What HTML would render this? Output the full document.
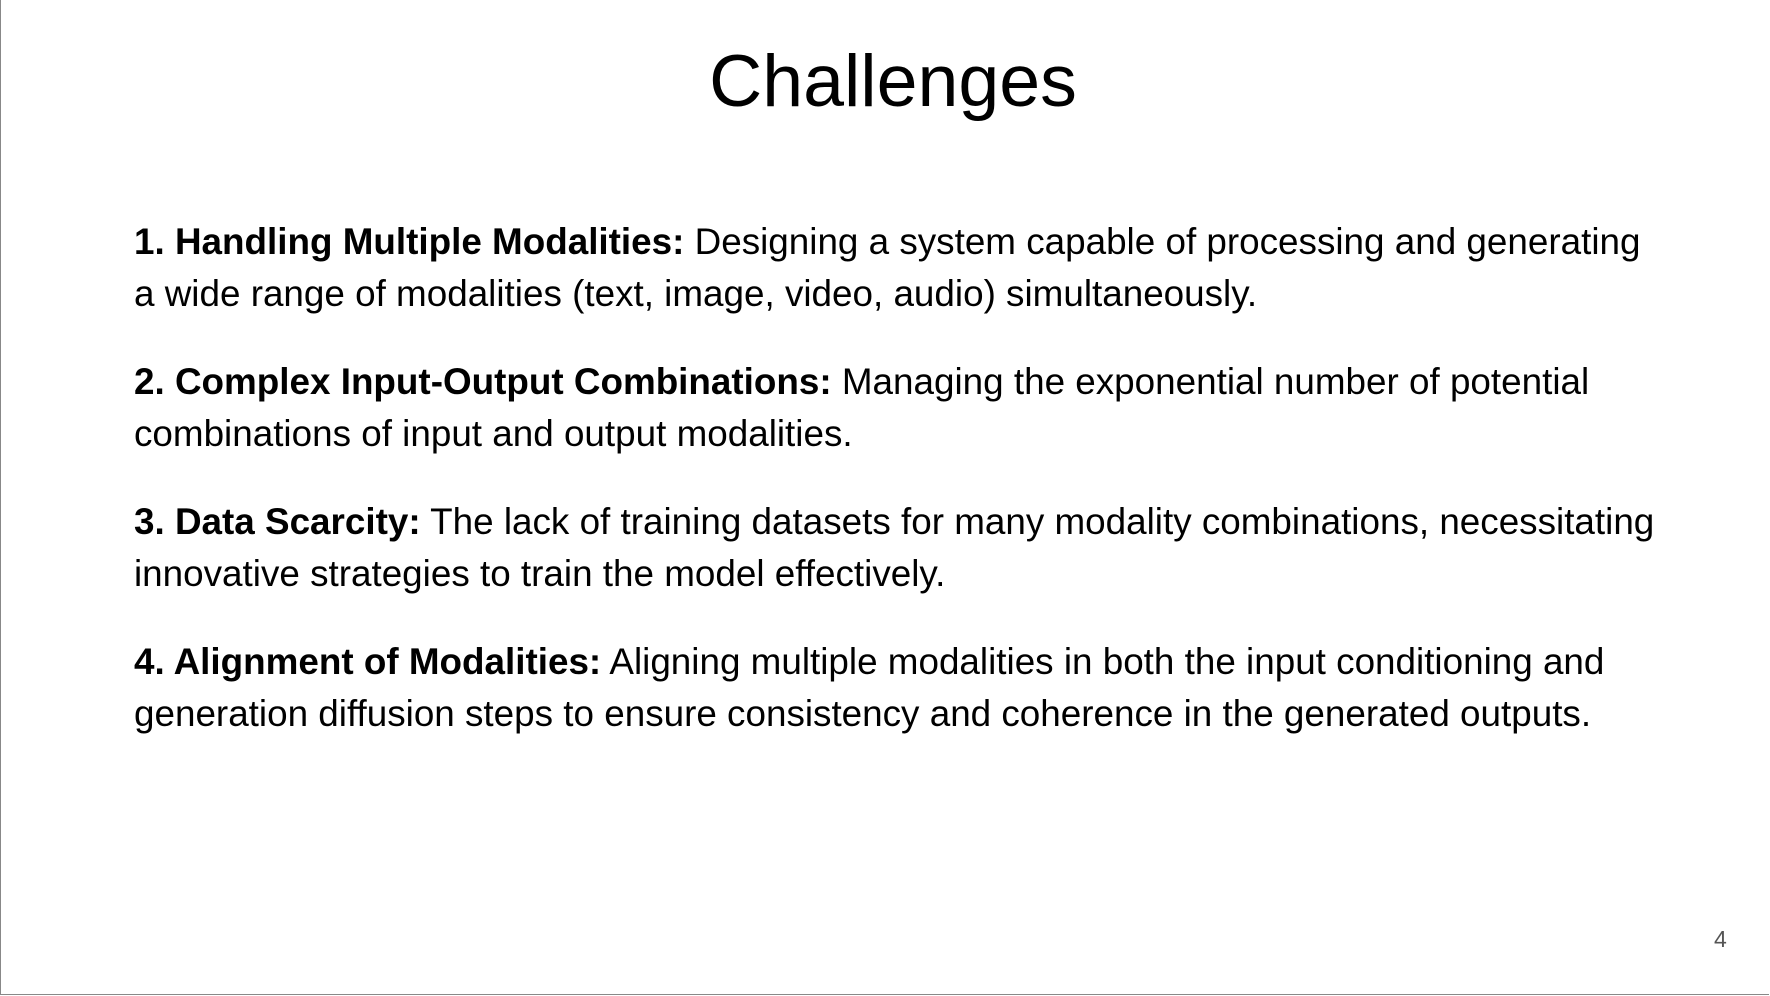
<!DOCTYPE html>
<html><head><meta charset="utf-8"><style>
html,body{margin:0;padding:0;background:#fff;}
body{width:1770px;height:996px;position:relative;overflow:hidden;font-family:"Liberation Sans",Arial,sans-serif;color:#000;}
.frame{position:absolute;left:0;top:0;width:1769px;height:995px;border-left:1px solid #888;border-bottom:1px solid #888;box-sizing:border-box;}
h1{position:absolute;left:0;width:1786px;top:36px;margin:0;text-align:center;font-weight:normal;font-size:73.5px;line-height:90px;}
.p{position:absolute;left:134px;width:1620px;font-size:36.85px;line-height:52px;white-space:nowrap;}
.n{position:absolute;left:1714px;top:926px;font-size:23px;color:#555;}
</style></head><body>
<div class="frame"></div>
<h1>Challenges</h1>
<div class="p" style="top:216px"><b>1. Handling Multiple Modalities:</b> Designing a system capable of processing and generating<br>a wide range of modalities (text, image, video, audio) simultaneously.</div>
<div class="p" style="top:356px"><b>2. Complex Input-Output Combinations:</b> Managing the exponential number of potential<br>combinations of input and output modalities.</div>
<div class="p" style="top:496px"><b>3. Data Scarcity:</b> The lack of training datasets for many modality combinations, necessitating<br>innovative strategies to train the model effectively.</div>
<div class="p" style="top:636px"><b>4. Alignment of Modalities:</b> Aligning multiple modalities in both the input conditioning and<br>generation diffusion steps to ensure consistency and coherence in the generated outputs.</div>
<div class="n">4</div>
</body></html>
